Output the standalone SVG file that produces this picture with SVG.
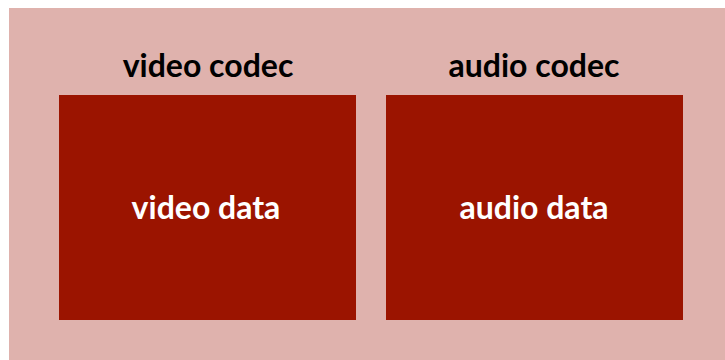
<svg xmlns="http://www.w3.org/2000/svg" width="725" height="360" viewBox="0 0 725 360">
<style>
.bg{fill:#dfb2ad}
.box{fill:#9b1400}
.title{font-family:"Lato","Open Sans",sans-serif;font-weight:bold;font-size:32px;fill:#000;text-anchor:middle}
.label{font-family:"Lato","Open Sans",sans-serif;font-weight:bold;font-size:32px;fill:#fff;text-anchor:middle}
</style>
<rect x="0" y="0" width="725" height="360" fill="#fff"/>
<rect class="bg" x="9" y="8" width="716" height="352"/>
<g id="video">
<text class="title" x="208" y="77">video codec</text>
<rect class="box" x="59" y="95" width="297" height="225"/>
<text class="label" x="206" y="219">video data</text>
</g>
<g id="audio">
<text class="title" x="534" y="77">audio codec</text>
<rect class="box" x="386" y="95" width="297" height="225"/>
<text class="label" x="534" y="219">audio data</text>
</g>
<g id="connectors"/>
</svg>
